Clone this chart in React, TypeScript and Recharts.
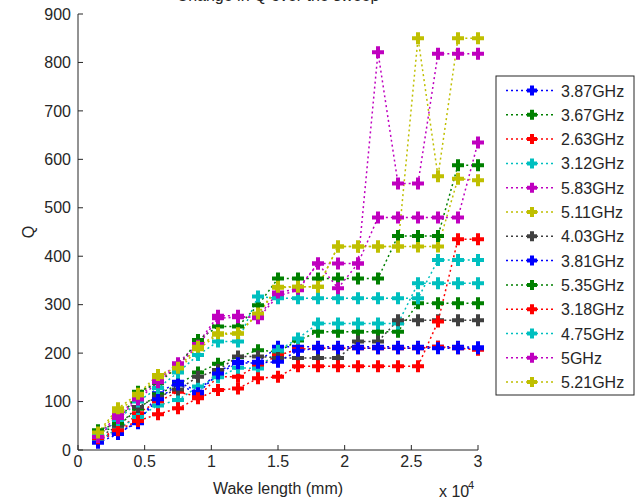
import React from 'react';
import { LineChart, Line, XAxis, YAxis } from 'recharts';

document.body.style.margin = '0';

// wake length (mm) of each sweep step
const wake = [1500, 3000, 4500, 6000, 7500, 9000, 10500, 12000, 13500, 15000,
  16500, 18000, 19500, 21000, 22500, 24000, 25500, 27000, 28500, 30000];

const xTicks = [0, 5000, 10000, 15000, 20000, 25000, 30000];
const yTicks = [0, 100, 200, 300, 400, 500, 600, 700, 800, 900];

const q387 = [20, 38, 55, 117, 141, 120, 162, 182, 182, 213, 213, 213, 213, 213, 213, 213, 213, 213, 213, 212];
const q367 = [35, 50, 85, 115, 135, 160, 178, 192, 206, 203, 226, 244, 244, 244, 244, 244, 303, 303, 303, 303];
const q263 = [20, 38, 76, 100, 120, 110, 151, 151, 175, 195, 208, 210, 210, 210, 210, 210, 210, 213, 210, 207];
const q312 = [18, 45, 68, 92, 103, 131, 150, 170, 168, 205, 230, 261, 261, 261, 261, 261, 344, 344, 344, 344];
const q583 = [30, 72, 108, 145, 179, 220, 277, 277, 272, 318, 330, 385, 385, 385, 821, 550, 550, 818, 818, 818];
const q511 = [33, 80, 112, 150, 165, 208, 238, 240, 280, 335, 337, 337, 420, 420, 420, 420, 420, 420, 560, 557];
const q403 = [25, 50, 89, 110, 125, 151, 165, 193, 193, 190, 190, 190, 190, 224, 224, 268, 268, 268, 268, 268];
const q381 = [15, 33, 60, 105, 135, 117, 158, 179, 180, 182, 205, 210, 210, 210, 210, 210, 210, 210, 210, 210];
const q535 = [41, 55, 120, 138, 172, 227, 255, 255, 299, 354, 354, 354, 354, 354, 354, 442, 442, 442, 588, 588];
const q318 = [24, 41, 60, 74, 86, 107, 124, 127, 148, 151, 173, 173, 173, 173, 173, 173, 173, 265, 435, 435];
const q475 = [30, 62, 100, 128, 160, 196, 224, 224, 317, 313, 313, 313, 313, 313, 313, 313, 313, 392, 392, 392];
const q500 = [27, 66, 104, 140, 175, 215, 272, 274, 275, 325, 333, 385, 334, 385, 480, 480, 480, 480, 480, 635];
const q521 = [36, 86, 116, 155, 170, 213, 241, 241, 282, 337, 337, 337, 420, 420, 420, 420, 850, 565, 850, 850];

const names = ['3.87GHz', '3.67GHz', '2.63GHz', '3.12GHz', '5.83GHz', '5.11GHz', '4.03GHz',
  '3.81GHz', '5.35GHz', '3.18GHz', '4.75GHz', '5GHz', '5.21GHz'];
const values = [q387, q367, q263, q312, q583, q511, q403, q381, q535, q318, q475, q500, q521];
const colors = ['#0000ff', '#008000', '#ff0000', '#00bfbf', '#bf00bf', '#bfbf00', '#404040',
  '#0000ff', '#008000', '#ff0000', '#00bfbf', '#bf00bf', '#bfbf00'];

const rows = wake.map((x, i) => {
  const row: Record<string, number> = { x };
  values.forEach((v, k) => { row['s' + k] = v[i]; });
  return row;
});

const font = '"Liberation Sans", Arial, sans-serif';
const ink = '#262626';

const Plus = ({ cx, cy, color, r = 6 }: { cx: number; cy: number; color: string; r?: number }) => (
  <path d={`M${cx - r},${cy}H${cx + r}M${cx},${cy - r}V${cy + r}`} stroke={color} strokeWidth={4} fill="none" />
);

const LegendBox = () => (
  <svg width={140} height={322} style={{ position: 'absolute', left: 495, top: 75 }}>
    <rect x={1} y={1} width={138} height={319} fill="#fff" stroke={ink} strokeWidth={1} />
    {names.map((n, i) => {
      const y = 15.5 + i * 24.3;
      return (
        <g key={n}>
          <line x1={11} x2={61} y1={y} y2={y} stroke={colors[i]} strokeWidth={1.5} strokeDasharray="2 3" />
          <Plus cx={37} cy={y} color={colors[i]} r={5} />
          <text x={66} y={y + 6} fontSize={16} fontFamily={font} fill={ink}>{n}</text>
        </g>
      );
    })}
  </svg>
);

export default function App() {
  return (
    <div style={{ position: 'relative', width: 637, height: 504, background: '#fff', overflow: 'hidden' }}>
      <LineChart width={637} height={504} data={rows} margin={{ top: 14, right: 159, bottom: 0, left: 0 }}>
        <XAxis xAxisId="bottom" dataKey="x" type="number" domain={[0, 30000]} ticks={xTicks} interval={0}
          tickFormatter={(v: number) => String(v / 10000)} height={54} tickSize={-5} tickMargin={11}
          stroke={ink} tick={{ fill: ink, fontSize: 16, fontFamily: font }} />
        <XAxis xAxisId="top" orientation="top" dataKey="x" type="number" domain={[0, 30000]} ticks={xTicks}
          interval={0} tickFormatter={() => ''} height={0} tickSize={-5} stroke={ink} />
        <YAxis yAxisId="left" type="number" domain={[0, 900]} ticks={yTicks} interval={0} width={78}
          tickSize={-5} tickMargin={12} stroke={ink} tick={{ fill: ink, fontSize: 16, fontFamily: font }} />
        <YAxis yAxisId="right" orientation="right" type="number" domain={[0, 900]} ticks={yTicks} interval={0}
          width={0} tickFormatter={() => ''} tickSize={-5} stroke={ink} />
        {names.map((n, k) => (
          <Line key={n} xAxisId="bottom" yAxisId="left" type="linear" dataKey={'s' + k} name={n}
            stroke={colors[k]} strokeWidth={1.5} strokeDasharray="2 3" isAnimationActive={false}
            dot={(p: any) => <Plus key={p.index} cx={p.cx} cy={p.cy} color={colors[k]} />}
            activeDot={false} />
        ))}
        <text x={278} y={1} textAnchor="middle" fontSize={16} fontFamily={font} fill={ink}>Change in Q over the sweep</text>
        <text x={278} y={494} textAnchor="middle" fontSize={16} fontFamily={font} fill={ink}>Wake length (mm)</text>
        <text transform="translate(34,232) rotate(-90)" textAnchor="middle" fontSize={16} fontFamily={font} fill={ink}>Q</text>
        <text x={439} y={497} fontSize={16} fontFamily={font} fill={ink}>x 10</text>
        <text x={468} y={489} fontSize={11} fontFamily={font} fill={ink}>4</text>
      </LineChart>
      <LegendBox />
    </div>
  );
}
